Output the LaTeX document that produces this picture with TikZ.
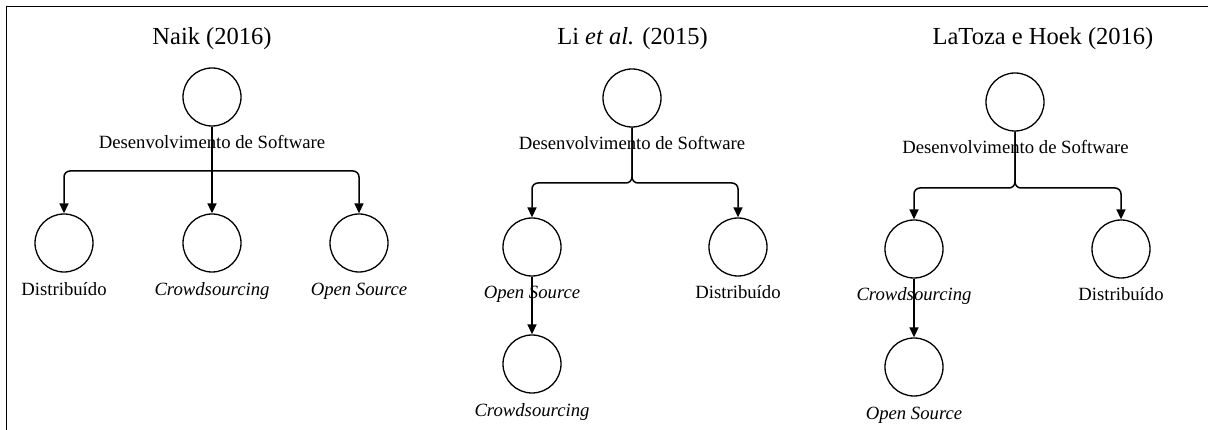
\documentclass[tikz,border=0pt]{standalone}
\usepackage{fontspec}
\setmainfont{Liberation Serif}
\usetikzlibrary{arrows.meta}
\tikzset{
  leaf/.style={circle, draw, line width=1.3pt, minimum size=58pt, inner sep=0pt},
  conn/.style={line width=1.5pt, -{Triangle[width=9pt,length=10pt]}, rounded corners=6pt},
  heading/.style={font=\fontsize{24.5}{28}\selectfont, anchor=base, inner sep=0pt},
  lbl/.style={font=\fontsize{18.7}{22}\selectfont, anchor=base, inner sep=0pt},
  frame/.style={line width=1.2pt},
}
\begin{document}
\begin{tikzpicture}[x=1pt,y=-1pt]
\useasboundingbox (0,0) rectangle (1208,430);

% frame: top and left edges
\coordinate (fb) at (6.5,431);
\coordinate (fc) at (6.5,6.5);
\coordinate (fr) at (1209,6.5);
\draw[frame] (fb) -- (fc) -- (fr);

% ---------- Naik (2016) ----------
\node[heading] (t1) at (212,45) {Naik (2016)};
\node[leaf] (n0) at (212,97) {};
\node[lbl] (n0l) at (212,148.5) {Desenvolvimento de Software};
\node[leaf] (n1) at (64,243) {};
\node[leaf] (n2) at (212,243) {};
\node[leaf] (n3) at (359,243) {};
\node[lbl] (n1l) at (64,295.5) {Distribuído};
\node[lbl] (n2l) at (212,295.5) {\itshape Crowdsourcing};
\node[lbl] (n3l) at (359,295.5) {\itshape Open Source};
\coordinate (nj) at (212,171);
\draw[conn] (n0.south) -- (n2.north);
\draw[conn] (nj) -| (n1.north);
\draw[conn] (nj) -| (n3.north);

% ---------- Li et al. (2015) ----------
\node[heading] (t2) at (632.5,45) {Li \textit{et al.} (2015)};
\node[leaf] (m0) at (632,98) {};
\node[lbl] (m0l) at (632,150) {Desenvolvimento de Software};
\node[leaf] (m1) at (532,247) {};
\node[leaf] (m2) at (738,247) {};
\node[leaf] (m3) at (532,364) {};
\node[lbl] (m1l) at (532,298.5) {\itshape Open Source};
\node[lbl] (m2l) at (738,298.5) {Distribuído};
\node[lbl] (m3l) at (532,416) {\itshape Crowdsourcing};
\coordinate (mj) at (632,183);
\draw[conn] (m0.south) -- (mj) -| (m1.north);
\draw[conn] (m0.south) -- (mj) -| (m2.north);
\draw[conn] (m1.south) -- (m3.north);

% ---------- LaToza e Hoek (2016) ----------
\node[heading] (t3) at (1043,45) {LaToza e Hoek (2016)};
\node[leaf] (k0) at (1015,102) {};
\node[lbl] (k0l) at (1015.5,153.5) {Desenvolvimento de Software};
\node[leaf] (k1) at (914,249) {};
\node[leaf] (k2) at (1121,249) {};
\node[leaf] (k3) at (914,367) {};
\node[lbl] (k1l) at (914,300.5) {\itshape Crowdsourcing};
\node[lbl] (k2l) at (1121,300.5) {Distribuído};
\node[lbl] (k3l) at (914,419) {\itshape Open Source};
\coordinate (kj) at (1015,188);
\draw[conn] (k0.south) -- (kj) -| (k1.north);
\draw[conn] (k0.south) -- (kj) -| (k2.north);
\draw[conn] (k1.south) -- (k3.north);
\end{tikzpicture}
\end{document}
